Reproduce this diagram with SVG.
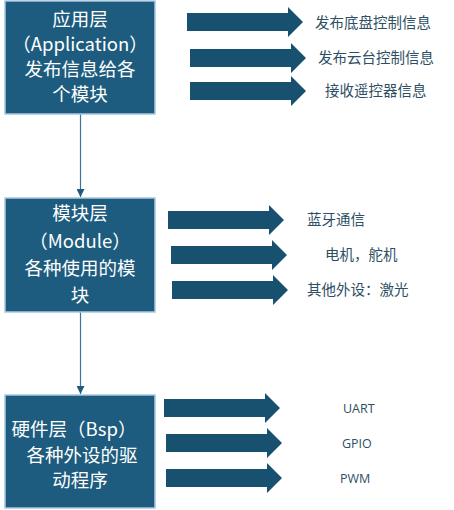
<svg xmlns="http://www.w3.org/2000/svg" width="454" height="510" viewBox="0 0 454 510">
<defs>
<style>
.box{fill:#1d5c7e;stroke:#a9c8e0;stroke-width:1.5}
.bt{font-family:"Noto Sans CJK SC","Microsoft YaHei",sans-serif;font-size:18.5px;fill:#ffffff;text-anchor:middle}
.lbl{font-family:"Noto Sans CJK SC",sans-serif;font-size:14.5px;fill:#2e4f63}
.en{font-family:"Open Sans","Noto Sans",sans-serif;font-size:12.5px;fill:#2e4f63}
.blk{fill:#17516f}
.conn{stroke:#3f7597;stroke-width:1.2;fill:none}
</style>
<marker id="ah" viewBox="0 0 10 10" refX="10" refY="5" markerWidth="8" markerHeight="8" markerUnits="userSpaceOnUse" orient="auto">
<path d="M0,0 L10,5 L0,10 Z" fill="#1d5c7e"/>
</marker>
<path id="barrow" d="M0,-9 L101,-9 L101,-15 L116,0 L101,15 L101,9 L0,9 Z"/>
</defs>
<rect width="454" height="510" fill="#ffffff"/>

<g id="connectors">
<line class="conn" x1="80.5" y1="114" x2="80.5" y2="197" marker-end="url(#ah)"/>
<line class="conn" x1="80.5" y1="312" x2="80.5" y2="394" marker-end="url(#ah)"/>
</g>

<g id="app">
<rect class="box" x="5" y="1" width="150" height="113"/>
<text class="bt" x="80" y="26">应用层</text>
<text class="bt" x="80" y="51">（Application）</text>
<text class="bt" x="80" y="76">发布信息给各</text>
<text class="bt" x="80" y="101">个模块</text>
</g>

<g id="module">
<rect class="box" x="5" y="198" width="150" height="114"/>
<text class="bt" x="80" y="220">模块层</text>
<text class="bt" x="80" y="248">（Module）</text>
<text class="bt" x="80" y="275">各种使用的模</text>
<text class="bt" x="80" y="302">块</text>
</g>

<g id="bsp">
<rect class="box" x="5" y="395" width="150" height="113"/>
<text class="bt" x="74" y="436">硬件层（Bsp）</text>
<text class="bt" x="82" y="462">各种外设的驱</text>
<text class="bt" x="80" y="487">动程序</text>
</g>

<g id="app-outputs">
<use href="#barrow" class="blk" x="187" y="22"/>
<text class="lbl" x="315" y="28">发布底盘控制信息</text>
<use href="#barrow" class="blk" x="190" y="58"/>
<text class="lbl" x="318" y="63">发布云台控制信息</text>
<use href="#barrow" class="blk" x="190" y="91"/>
<text class="lbl" x="325" y="96">接收遥控器信息</text>
</g>

<g id="module-outputs">
<use href="#barrow" class="blk" x="168" y="220"/>
<text class="lbl" x="307" y="225">蓝牙通信</text>
<use href="#barrow" class="blk" x="171" y="255"/>
<text class="lbl" x="325" y="260">电机，舵机</text>
<use href="#barrow" class="blk" x="172" y="290"/>
<text class="lbl" x="307" y="295">其他外设：激光</text>
</g>

<g id="bsp-outputs">
<use href="#barrow" class="blk" x="164" y="408"/>
<text class="en" x="343" y="413">UART</text>
<use href="#barrow" class="blk" x="166" y="443"/>
<text class="en" x="342" y="448">GPIO</text>
<use href="#barrow" class="blk" x="166" y="478"/>
<text class="en" x="340" y="483">PWM</text>
</g>
</svg>
